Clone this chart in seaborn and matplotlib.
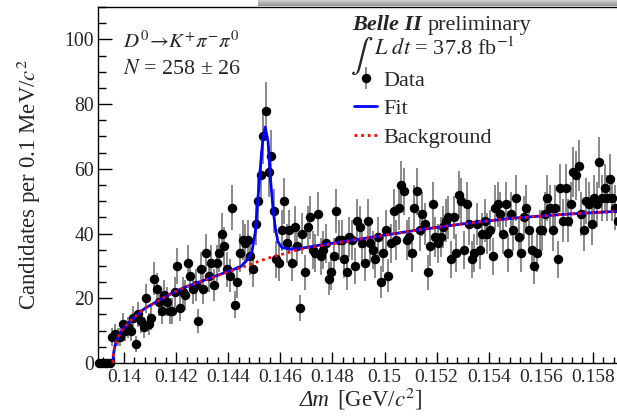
import numpy as np
import matplotlib
matplotlib.use("Agg")
import matplotlib.pyplot as plt
from matplotlib.ticker import MultipleLocator, FuncFormatter
import seaborn as sns

# histogram: 0.1 MeV bins starting at 0.139 GeV
bin_start = 0.139
bin_width = 0.0001
counts = [
    0, 0, 0, 0, 0, 8, 9, 8, 8, 12,
    10, 11, 10, 14, 6, 15, 13, 11, 20, 12,
    14, 26, 23, 19, 16, 21, 19, 16, 16, 22,
    30, 17, 22, 21, 31, 27, 23, 24, 13, 29,
    23, 34, 27, 31, 24, 31, 34, 40, 36, 29,
    27, 48, 18, 25, 34, 38, 37, 38, 33, 29,
    43, 50, 58, 70, 78, 59, 64, 47, 32, 31,
    41, 50, 37, 41, 31, 42, 36, 17, 40, 28,
    42, 45, 35, 34, 46, 33, 35, 37, 26, 28,
    33, 47, 38, 38, 32, 28, 39, 38, 30, 44,
    42, 37, 31, 44, 37, 35, 32, 39, 25, 34,
    41, 27, 37, 47, 38, 48, 55, 53, 38, 39,
    34, 48, 53, 41, 46, 43, 28, 36, 49, 39,
    37, 39, 42, 44, 45, 32, 45, 34, 52, 50,
    35, 49, 43, 32, 34, 43, 35, 40, 44, 40,
    41, 33, 48, 49, 46, 40, 49, 34, 46, 41,
    51, 39, 34, 45, 48, 41, 35, 30, 34, 41,
    41, 46, 51, 48, 41, 48, 32, 54, 44, 54,
    44, 49, 59, 58, 61, 46, 41, 50, 49, 43,
    51, 49, 62, 51, 54, 51, 57, 51, 48, 44,
]

# background pdf
bkg_dm = [0.13957, 0.13959, 0.13962, 0.13966, 0.13972, 0.1398, 0.1399, 0.14003,
          0.14028, 0.1408, 0.14131, 0.14182, 0.14233, 0.14285, 0.1442, 0.14549,
          0.14677, 0.1490, 0.1512, 0.1530, 0.1550, 0.1570, 0.1590, 0.1600]
bkg_val = [0, 2.5, 4.0, 5.5, 7.0, 8.4, 9.8, 11.2,
           13.3, 16.9, 19.2, 21.5, 23.4, 24.9, 28.7, 32.3,
           35.2, 38.2, 41.0, 43.0, 44.8, 46.0, 46.9, 47.3]

# total fit (signal + background)
fit_dm = [0.13957, 0.13959, 0.13962, 0.13966, 0.13972, 0.1398, 0.1399, 0.14003,
          0.14028, 0.1408, 0.14131, 0.14182, 0.14233, 0.14285, 0.1442, 0.1445,
          0.14472, 0.14491, 0.14504, 0.14513, 0.14523, 0.14533, 0.14542, 0.14553,
          0.14562, 0.14572, 0.14581, 0.14591, 0.14607, 0.14639, 0.14677, 0.14715,
          0.1475, 0.1490, 0.1512, 0.1530, 0.1550, 0.1570, 0.1590, 0.1600]
fit_val = [0, 2.5, 4.0, 5.5, 7.0, 8.4, 9.8, 11.2,
           13.3, 16.9, 19.2, 21.5, 23.4, 24.9, 28.9, 29.9,
           31.8, 34.4, 40.5, 49.8, 60.1, 69.3, 72.9, 68.3,
           57.0, 47.7, 41.6, 37.4, 35.6, 35.2, 35.4, 35.9,
           36.4, 38.2, 41.0, 43.0, 44.8, 46.0, 46.9, 47.3]

W, H = 617, 417


def fx(px):
    return px / W


def fy(py):
    return 1 - py / H


sns.set_style("ticks")
plt.rcParams["font.family"] = ["Liberation Serif", "DejaVu Serif"]
plt.rcParams["mathtext.fontset"] = "stix"

fig = plt.figure(figsize=(W / 100, H / 100), dpi=100)
ax = fig.add_axes([fx(98), fy(363), 547 / W, 356 / H])

dm = bin_start + bin_width * (np.arange(len(counts)) + 0.5)
n = np.array(counts, dtype=float)
data = ax.errorbar(dm, n, yerr=np.sqrt(n), fmt="o", color="black", ms=5.8,
                   ecolor="0.5", elinewidth=1.3, capsize=0, clip_on=False, zorder=2)

sns.lineplot(x=fit_dm, y=fit_val, color="#0000ff", lw=2, sort=False,
             estimator=None, ax=ax, zorder=3)
fit_line = ax.lines[-1]
sns.lineplot(x=bkg_dm, y=bkg_val, color="#ff0000", lw=2, sort=False,
             estimator=None, ax=ax, zorder=4)
bkg_line = ax.lines[-1]
bkg_line.set_linestyle((0, (1, 1.4)))

ax.set_xlim(0.139, 0.160)
ax.set_ylim(0, 110)
ax.xaxis.set_major_locator(MultipleLocator(0.002))
ax.xaxis.set_minor_locator(MultipleLocator(0.0004))
ax.yaxis.set_major_locator(MultipleLocator(20))
ax.yaxis.set_minor_locator(MultipleLocator(5))
# the 0.16 label sits outside the cropped picture
ax.xaxis.set_major_formatter(FuncFormatter(lambda v, p: f"{v:g}" if v < 0.1595 else ""))
ax.tick_params(which="both", direction="in", top=False, right=False, color="black", width=1)
ax.tick_params(axis="y", which="major", length=10, labelsize=14.2, pad=3)
ax.tick_params(axis="y", which="minor", length=5.8)
ax.tick_params(axis="x", which="major", length=7.9, labelsize=14, pad=4)
ax.tick_params(axis="x", which="minor", length=4.3)
for s in ax.spines.values():
    s.set_color("black")
    s.set_linewidth(1)

# x title: italic Δm, then the unit
fig.text(fx(300), fy(406), "Δm", fontsize=16.5, fontstyle="italic", va="baseline")
fig.text(fx(337), fy(406), r"[GeV/$c^2$]", fontsize=16.5, va="baseline")
ax.set_ylabel(r"Candidates per 0.1 MeV/$c^2$", fontsize=16.5)
ax.yaxis.set_label_coords((43 - 98) / 547, (363 - 184) / 356)

fig.text(fx(123), fy(48), r"$D^{0}\!\rightarrow\!K^{+}\pi^{-}\pi^{0}$", fontsize=15, va="baseline")
fig.text(fx(123), fy(74), r"$N$ = 258 ± 26", fontsize=15.8, va="baseline")

fig.text(fx(352), fy(30), "Belle II", fontsize=16, fontweight="bold", fontstyle="italic", va="baseline")
fig.text(fx(428), fy(30), "preliminary", fontsize=16, va="baseline")
fig.text(fx(350), fy(64), r"$\int$", fontsize=24, va="baseline")
fig.text(fx(374), fy(55), r"$L\ dt$ = 37.8 fb$^{-1}$", fontsize=16, va="baseline")

ax.legend([data, fit_line, bkg_line], ["Data", "Fit", "Background"],
          loc="upper left", bbox_to_anchor=(fx(354), fy(70)), bbox_transform=fig.transFigure,
          frameon=False, fontsize=16, handlelength=1.05, handletextpad=0.27,
          labelspacing=0.36, borderpad=0, borderaxespad=0)

# grey shadow strip along the top edge of the screenshot
shade = fig.add_axes([fx(258), fy(6), (W - 258) / W, 6 / H])
shade.imshow(np.linspace(0.8, 0.6, 6).reshape(-1, 1), cmap="gray", vmin=0, vmax=1,
             aspect="auto", interpolation="bilinear")
shade.axis("off")

fig.savefig("out.png", dpi=100)
